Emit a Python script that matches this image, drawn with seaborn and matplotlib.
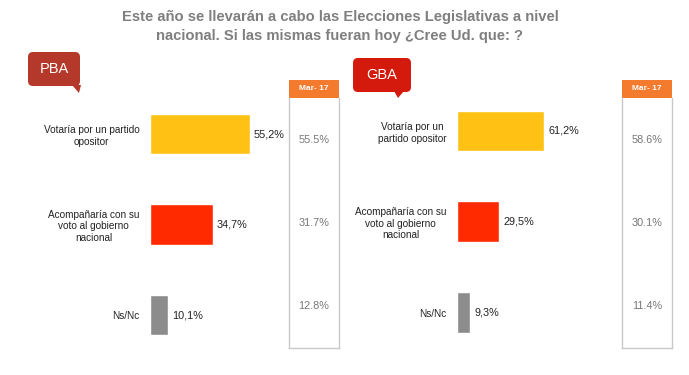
import matplotlib.pyplot as plt
import numpy as np
import pandas as pd
import seaborn as sns
from matplotlib.patches import FancyBboxPatch, Polygon, Rectangle

# data
pba_cats = ["Votaría por un partido\nopositor",
            "Acompañaría con su\nvoto al gobierno\nnacional",
            "Ns/Nc"]
gba_cats = ["Votaría por un\npartido opositor",
            "Acompañaría con su\nvoto al gobierno\nnacional",
            "Ns/Nc"]
pba_vals = [55.2, 34.7, 10.1]
gba_vals = [61.2, 29.5, 9.3]
pba_prev = [55.5, 31.7, 12.8]
gba_prev = [58.6, 30.1, 11.4]
prev_label = "Mar- 17"
title = ("Este año se llevarán a cabo las Elecciones Legislativas a nivel\n"
         "nacional. Si las mismas fueran hoy ¿Cree Ud. que: ?")
bar_colors = ["#ffc114", "#ff2a00", "#8c8c8c"]

W, H = 689, 375

sns.set_theme(style="white")
plt.rcParams["font.family"] = ["Liberation Sans", "DejaVu Sans"]

fig = plt.figure(figsize=(W / 100, H / 100), dpi=100)
fig.patch.set_facecolor("white")


def rect(x0, y0, x1, y1):
    # pixel box (top-left origin) -> figure fraction
    return [x0 / W, 1 - y1 / H, (x1 - x0) / W, (y1 - y0) / H]


# overlay for callouts
over = fig.add_axes([0, 0, 1, 1], zorder=0)
over.set_xlim(0, W)
over.set_ylim(H, 0)
over.axis("off")


def callout(ax, x0, y0, x1, y1, tail, color, text):
    ax.add_patch(FancyBboxPatch((x0, y0), x1 - x0, y1 - y0,
                                boxstyle="round,pad=0,rounding_size=5",
                                fc=color, ec="none"))
    ax.add_patch(Polygon(tail, closed=True, fc=color, ec="none"))
    ax.text((x0 + x1) / 2, (y0 + y1) / 2, text, color="white",
            fontsize=10.5, ha="center", va="center")


callout(over, 28, 52, 80, 86, [(72, 85), (81, 85), (79, 93)], "#b5392a", "PBA")
callout(over, 353, 58, 411, 92, [(394, 91), (404, 91), (398, 98)], "#d41a0c", "GBA")

fig.text(340 / W, 1 - 26.5 / H, title, ha="center", va="center",
         fontsize=10.6, fontweight="bold", color="#7f7f7f",
         multialignment="center", linespacing=1.4)


def panel(cats, vals, prev, bar_box, xmax, width, prev_x):
    ax = fig.add_axes(rect(*bar_box))
    sns.barplot(x=vals, y=cats, hue=cats, palette=bar_colors, orient="h",
                width=width, legend=False, ax=ax, saturation=1)
    ax.set_xlim(0, xmax)
    ax.set_ylim(2.5, -0.5)
    ax.set_xticks([])
    ax.set_xlabel("")
    ax.set_ylabel("")
    ax.tick_params(axis="y", length=0, pad=7.5, labelsize=7.2, labelcolor="#222222")
    for lbl in ax.get_yticklabels():
        lbl.set_multialignment("center")
        lbl.set_linespacing(1.2)
    sns.despine(ax=ax, left=True, bottom=True)
    ax.patch.set_alpha(0)
    for i, v in enumerate(vals):
        ax.annotate(f"{v:.1f}%".replace(".", ","), xy=(v, i), xytext=(3, 0),
                    textcoords="offset points", va="center", ha="left",
                    fontsize=7.8, color="#222222")

    # previous-measure box
    hx = fig.add_axes(rect(prev_x, 80, prev_x + 50, 98))
    hx.set_facecolor("#f47a2e")
    hx.set_xticks([])
    hx.set_yticks([])
    for s in hx.spines.values():
        s.set_visible(False)
    hx.text(0.5, 0.5, prev_label, transform=hx.transAxes, ha="center",
            va="center", color="white", fontsize=6, fontweight="bold")

    bx = fig.add_axes(rect(prev_x, 98, prev_x + 50, 348))
    bx.set_ylim(2.5, -0.5)
    bx.set_xlim(0, 1)
    bx.set_xticks([])
    bx.set_yticks([])
    for name, s in bx.spines.items():
        s.set_color("#c9c9c9")
        s.set_linewidth(1)
    bx.spines["top"].set_visible(False)
    for i, v in enumerate(prev):
        bx.text(0.5, i, f"{v:.1f}%", ha="center", va="center",
                fontsize=7.8, color="#777777")


panel(pba_cats, pba_vals, pba_prev, (150, 88.75, 290, 360.25), 140 / 1.81, 0.442, 289)
panel(gba_cats, gba_vals, gba_prev, (457, 85.6, 587, 357.9), 130 / 1.42, 0.45, 622)

fig.savefig("out.png", dpi=100)
